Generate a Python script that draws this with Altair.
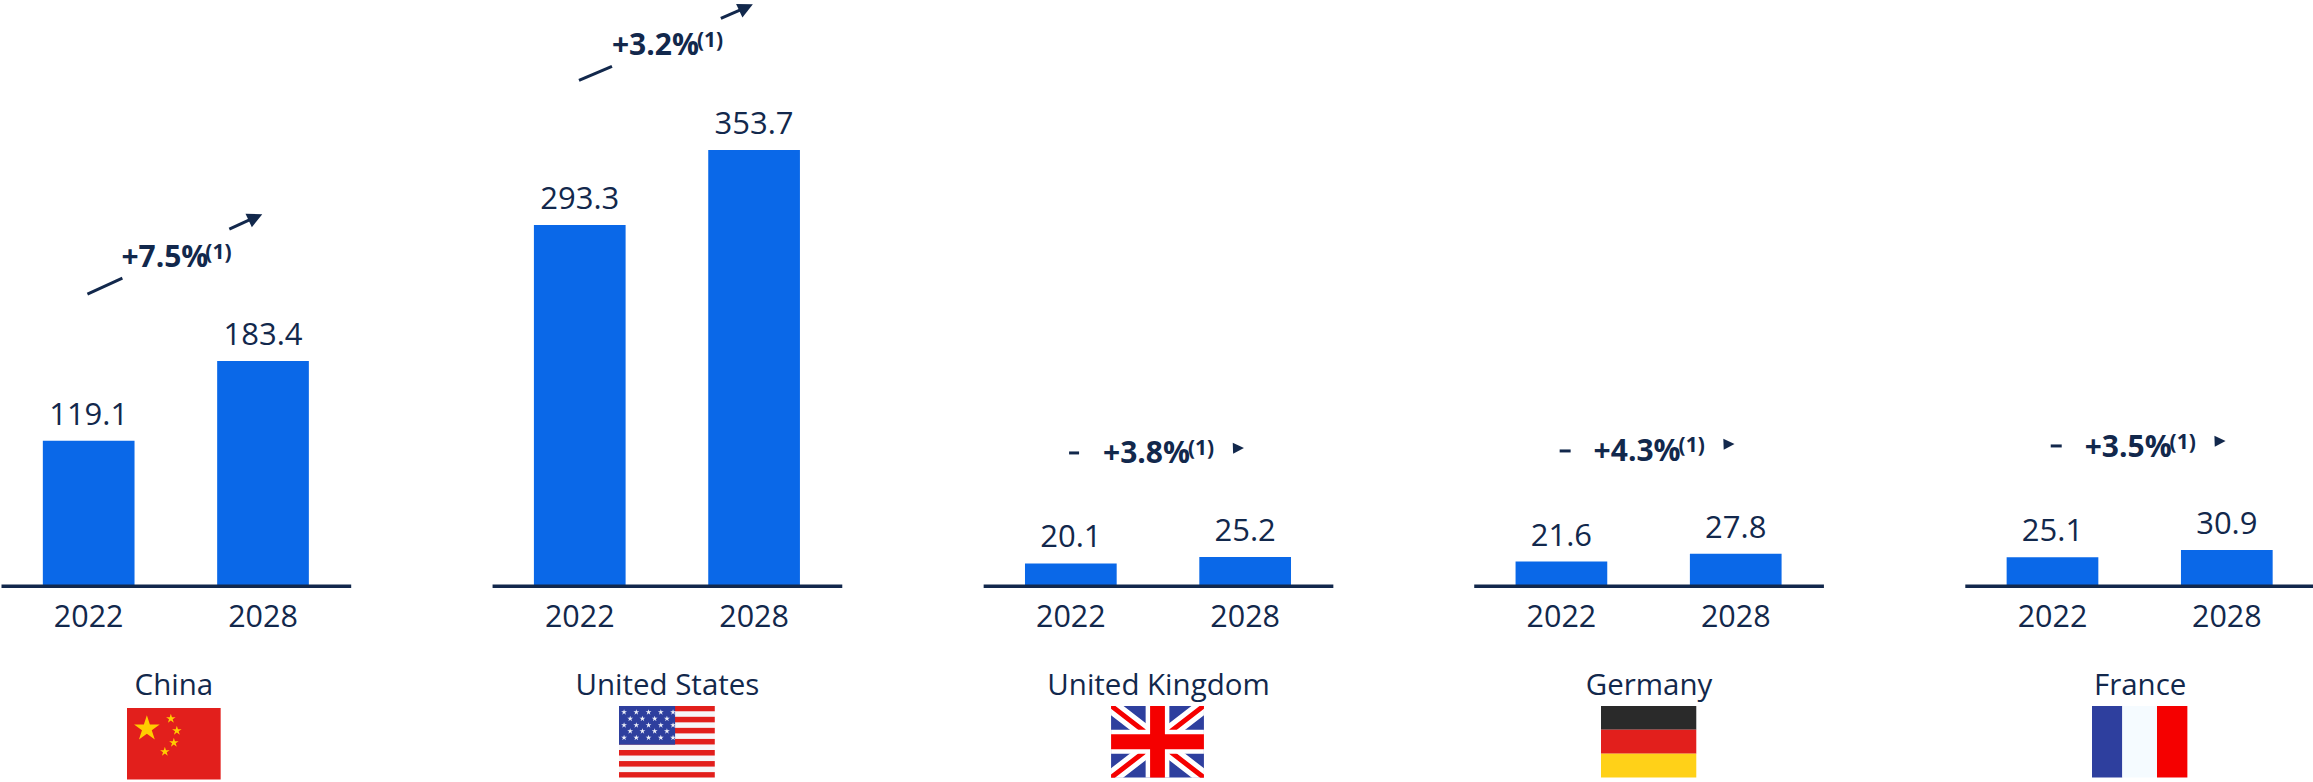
import base64
import math
import altair as alt
import pandas as pd

# Market size by country, two reference years
YEARS = ["2022", "2028"]
COUNTRIES = ["China", "United States", "United Kingdom", "Germany", "France"]
VALUES_2022 = [119.1, 293.3, 20.1, 21.6, 25.1]
VALUES_2028 = [183.4, 353.7, 25.2, 27.8, 30.9]
GROWTH = ["+7.5%", "+3.2%", "+3.8%", "+4.3%", "+3.5%"]
NOTE = "(1)"

NAVY = "#12284c"
BLUE = "#0a68e8"
FONT = "Open Sans"
PANEL_W = 350
PANEL_H = 586


def star(cx, cy, r, rot=0.0):
    pts = []
    for i in range(10):
        rad = r if i % 2 == 0 else r * 0.382
        a = math.radians(-90 + 36 * i + rot)
        pts.append(f"{cx + rad * math.cos(a):.2f},{cy + rad * math.sin(a):.2f}")
    return " ".join(pts)


def flag_china():
    s = '<rect width="94" height="72" fill="#e21f1c"/>'
    s += f'<polygon points="{star(20, 21, 13.5)}" fill="#ffcc00"/>'
    for cx, cy in [(44, 11), (50, 23), (47, 35), (38, 44)]:
        s += f'<polygon points="{star(cx, cy, 5)}" fill="#ffcc00"/>'
    return s


def flag_usa():
    s = '<rect width="94" height="72" fill="#f6f6f8"/>'
    for i in range(0, 13, 2):
        s += f'<rect y="{i * 72 / 13:.2f}" width="94" height="{72 / 13:.2f}" fill="#e21f1c"/>'
    s += '<rect width="55" height="39" fill="#2e3f9e"/>'
    for row, cy in enumerate([6.5, 13, 19.5, 25.5, 32]):
        n = 5 if row % 2 == 0 else 4
        x0 = 5 if row % 2 == 0 else 11
        for k in range(n):
            s += f'<polygon points="{star(x0 + 12 * k, cy, 3)}" fill="#eef0f8"/>'
    return s


def flag_uk():
    s = '<rect width="94" height="72" fill="#2e3f9e"/>'
    s += '<path d="M0,0L94,72M94,0L0,72" stroke="#ffffff" stroke-width="15"/>'
    s += '<path d="M0,0L94,72M94,0L0,72" stroke="#f50000" stroke-width="5"/>'
    s += '<path d="M47,0V72M0,36H94" stroke="#ffffff" stroke-width="24"/>'
    s += '<path d="M47,0V72M0,36H94" stroke="#f50000" stroke-width="15"/>'
    return s


def flag_germany():
    return ('<rect width="94" height="24" fill="#2a2a2a"/>'
            '<rect y="24" width="94" height="24" fill="#e21f1c"/>'
            '<rect y="48" width="94" height="24" fill="#ffd118"/>')


def flag_france():
    return ('<rect width="30" height="72" fill="#2e3f9e"/>'
            '<rect x="30" width="34" height="72" fill="#f5fbff"/>'
            '<rect x="64" width="30" height="72" fill="#f50000"/>')


def flag_uri(body):
    svg = f'<svg xmlns="http://www.w3.org/2000/svg" width="94" height="72" viewBox="0 0 94 72" preserveAspectRatio="none">{body}</svg>'
    return "data:image/svg+xml;base64," + base64.b64encode(svg.encode()).decode()


FLAGS = [flag_china(), flag_usa(), flag_uk(), flag_germany(), flag_france()]

# Per-panel placement of the growth annotation, flag and titles, in panel pixels
SHIFT = [0, 0.5, 1, 1, 1.5]
ANNOTATIONS = [
    dict(tail=(86.5, 294, 121.5, 278), lead=(228.5, 229, 252.5, 218), tip=(261.5, 214), head=15, angle=335, text=(120.5, 267), note=(204.5, 253), flag=(173, 708, 94), title_x=172.5),
    dict(tail=(87, 80, 120, 66), lead=(229, 18, 252, 8), tip=(261, 4), head=15, angle=335, text=(120, 55), note=(205, 41), flag=(175, 706, 96), title_x=175),
    dict(tail=(86, 453, 96, 453), lead=None, tip=(261, 448), head=11, angle=358, text=(120, 463), note=(205, 449), flag=(174.5, 706, 93), title_x=175),
    dict(tail=(86, 451, 97, 451), lead=None, tip=(261, 444), head=11, angle=358, text=(120, 461), note=(205, 446), flag=(175, 706, 96), title_x=175),
    dict(tail=(86, 446, 97, 446), lead=None, tip=(261, 441), head=11, angle=358, text=(120, 457), note=(205, 443), flag=(175, 706, 96), title_x=175),
]

ONE_ROW = alt.Data(values=[{"k": 1}])


def segment(coords, s):
    x1, y1, x2, y2 = coords
    return alt.Chart(ONE_ROW).mark_rule(color=NAVY, strokeWidth=3).encode(
        x=alt.value(x1 + s), y=alt.value(y1), x2=alt.value(x2 + s), y2=alt.value(y2)
    )


def panel(i):
    df = pd.DataFrame({"year": YEARS, "value": [VALUES_2022[i], VALUES_2028[i]]})
    a = ANNOTATIONS[i]
    s = SHIFT[i]

    x = alt.X(
        "year:N",
        sort=YEARS,
        scale=alt.Scale(paddingInner=0.474, paddingOuter=0.24, range=[s, PANEL_W + s]),
        axis=alt.Axis(
            title=COUNTRIES[i],
            titleFont=FONT, titleFontSize=29.5, titleFontWeight="normal", titleColor=NAVY,
            titlePadding=38, titleX=a["title_x"] + s,
            labelFont=FONT, labelFontSize=30.5, labelColor=NAVY, labelAngle=0, labelPadding=17,
            domainColor=NAVY, domainWidth=3.5, ticks=False, grid=False, zindex=1,
        ),
    )
    y = alt.Y(
        "value:Q",
        scale=alt.Scale(domain=[2, 474.6], clamp=True, zero=False),
        axis=None,
    )

    base = alt.Chart(df).encode(x=x, y=y)
    bars = base.mark_bar(color=BLUE, stroke=None)
    labels = base.mark_text(font=FONT, fontSize=31, color=NAVY, baseline="bottom", dy=-9).encode(text=alt.Text("value:Q", format=".1f"))

    tip_x, tip_y = a["tip"]
    flag_x, flag_y, flag_w = a["flag"]
    layers = [bars, labels, segment(a["tail"], s)]
    if a["lead"]:
        layers.append(segment(a["lead"], s))
    layers += [
        alt.Chart(ONE_ROW).mark_point(
            shape="M0,0L-1,-0.5L-1,0.5Z", filled=True, opacity=1, color=NAVY,
            size=(2 * a["head"]) ** 2, angle=a["angle"],
        ).encode(x=alt.value(tip_x + s), y=alt.value(tip_y)),
        alt.Chart(ONE_ROW).mark_text(
            text=GROWTH[i], font=FONT, fontSize=30, fontWeight="bold", color=NAVY, align="left", baseline="alphabetic"
        ).encode(x=alt.value(a["text"][0] + s), y=alt.value(a["text"][1])),
        alt.Chart(ONE_ROW).mark_text(
            text=NOTE, font=FONT, fontSize=21, fontWeight="bold", color=NAVY, align="left", baseline="middle"
        ).encode(x=alt.value(a["note"][0] + s), y=alt.value(a["note"][1])),
        alt.Chart(alt.Data(values=[{"url": flag_uri(FLAGS[i])}])).mark_image(
            width=flag_w, height=72, align="center", baseline="top", aspect=False
        ).encode(url="url:N", x=alt.value(flag_x + s), y=alt.value(flag_y)),
    ]
    return alt.layer(*layers).properties(width=PANEL_W, height=PANEL_H)


chart = (
    alt.hconcat(*[panel(i) for i in range(len(COUNTRIES))], spacing=141)
    .properties(padding={"left": 1, "top": 0, "right": 0, "bottom": 0}, background="white")
    .configure_view(stroke=None)
)

chart.save("out.html", embed_options={"renderer": "svg", "actions": False})
